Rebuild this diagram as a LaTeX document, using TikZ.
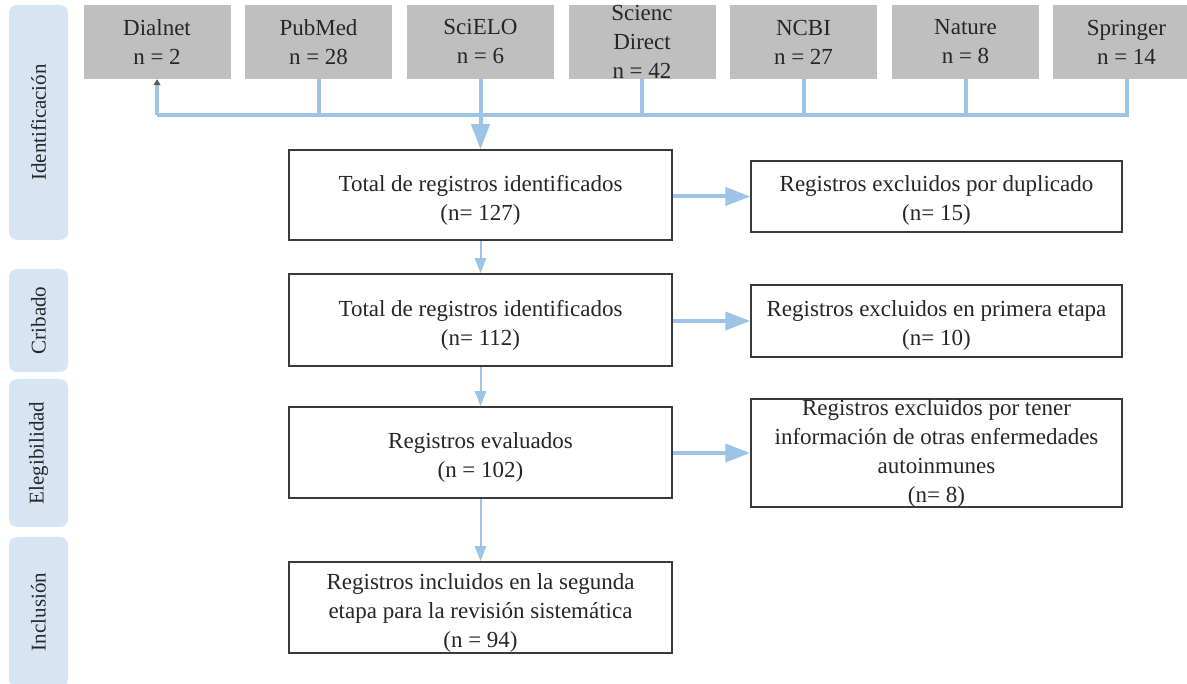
\documentclass[tikz,border=0pt]{standalone}
\usepackage{fontspec}
\setmainfont{Liberation Serif}
\usetikzlibrary{arrows.meta}
\definecolor{flow}{HTML}{9DC3E6}
\definecolor{phase}{HTML}{D6E4F4}
\definecolor{srcgray}{HTML}{BFBFBF}
\definecolor{ink}{HTML}{262626}
\definecolor{frame}{HTML}{3A3A3A}
\tikzset{
  every node/.style={text=ink, font=\fontsize{23}{29}\selectfont, align=center, inner sep=0pt},
  phasebar/.style={fill=phase, rounded corners=8pt, minimum height=59pt, anchor=center, rotate=90,
                   font=\fontsize{21}{25}\selectfont},
  srcbox/.style={fill=srcgray, minimum width=147pt, minimum height=74pt},
  srctext/.style={font=\fontsize{23}{29}\selectfont},
  mainbox/.style={draw=frame, line width=1.5pt, fill=white, minimum width=383pt},
  sidebox/.style={draw=frame, line width=1.5pt, fill=white, minimum width=371pt},
  bus/.style={draw=flow, line width=4pt},
  bigarrow/.style={draw=flow, line width=4pt, -{Triangle[width=18pt,length=25pt,color=flow]}},
  thinarrow/.style={draw=flow, line width=2pt, -{Triangle[width=11pt,length=15pt,color=flow]}},
}
% a strut that lowers a text block inside its box
\newcommand{\lowerby}[1]{\rule{0pt}{#1}}
\begin{document}
\begin{tikzpicture}[x=1pt,y=-1pt]
\useasboundingbox[fill=white] (0,0) rectangle (1187,684);

% phase bars on the left
\node[phasebar, minimum width=235pt] (pid) at (38.5,122.5) {Identificación};
\node[phasebar, minimum width=103pt] (pcr) at (38.5,320.5) {Cribado};
\node[phasebar, minimum width=148pt] (pel) at (38.5,453) {Elegibilidad};
\node[phasebar, minimum width=150pt] (pin) at (38.5,612) {Inclusión};

% databases
\node[srcbox] (dialnet) at (157,42) {};
\node[srcbox] (pubmed) at (318.5,42) {};
\node[srcbox] (scielo) at (480.5,42) {};
\node[srcbox] (scidir) at (642,42) {};
\node[srcbox] (ncbi) at (803.5,42) {};
\node[srcbox] (nature) at (965.5,42) {};
\node[srcbox] (springer) at (1126.5,42) {};
\node[srctext] (tdialnet) at (dialnet) {Dialnet\\n = 2};
\node[srctext] (tpubmed) at (pubmed) {PubMed\\n = 28};
\node[srctext] (tscielo) at (scielo) {SciELO\\n = 6};
\node[srctext] (tscidir) at (scidir) {Scienc\\Direct\\n = 42};
\node[srctext] (tncbi) at (ncbi) {NCBI\\n = 27};
\node[srctext] (tnature) at (nature) {Nature\\n = 8};
\node[srctext] (tspringer) at (springer) {Springer\\n = 14};

% main flow
\node[mainbox, minimum height=90pt] (total1) at (480.5,195) {\lowerby{26pt}Total de registros identificados\\(n= 127)};
\node[mainbox, minimum height=92pt] (total2) at (480.5,320) {\lowerby{26pt}Total de registros identificados\\(n= 112)};
\node[mainbox, minimum height=91pt] (eval) at (480.5,452.5) {\lowerby{26pt}Registros evaluados\\(n = 102)};
\node[mainbox, minimum height=91pt] (incl) at (480.5,607.5) {\lowerby{26pt}Registros incluidos en la segunda\\etapa para la revisión sistemática\\(n = 94)};

% exclusions
\node[sidebox, minimum height=71pt] (dup) at (936.5,196.5) {\lowerby{24pt}Registros excluidos por duplicado\\(n= 15)};
\node[sidebox, minimum height=72pt] (first) at (936.5,321) {\lowerby{24pt}Registros excluidos en primera etapa\\(n= 10)};
\node[sidebox, minimum height=106pt] (other) at (936.5,453) {Registros excluidos por tener\\información de otras enfermedades\\autoinmunes\\(n= 8)};

% collecting bus
\coordinate (busy) at (0,115);
\draw[bus] (dialnet.south |- busy) -- (springer.south |- busy) -- (springer.south);
\draw[bus, -{Triangle[width=7pt,length=6pt,color=black!65]}] (dialnet.south |- busy) -- (dialnet.south);
\draw[bus] (pubmed.south) -- (pubmed.south |- busy);
\draw[bus] (scidir.south) -- (scidir.south |- busy);
\draw[bus] (ncbi.south) -- (ncbi.south |- busy);
\draw[bus] (nature.south) -- (nature.south |- busy);
\draw[bigarrow] (scielo.south) -- (total1.north);

% vertical steps
\draw[thinarrow] (total1.south) -- (total2.north);
\draw[thinarrow] (total2.south) -- (eval.north);
\draw[thinarrow] (eval.south) -- (incl.north);

% exclusion arrows
\draw[bigarrow] (total1.east |- dup.west) -- (dup.west);
\draw[bigarrow] (total2.east |- first.west) -- (first.west);
\draw[bigarrow] (eval.east |- other.west) -- (other.west);
\end{tikzpicture}
\end{document}
